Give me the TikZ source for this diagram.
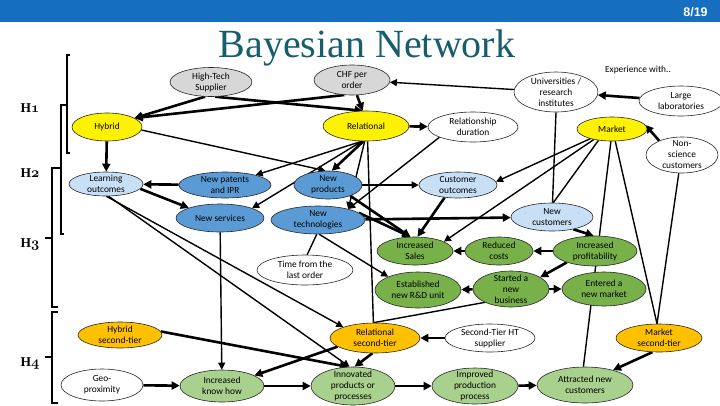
\documentclass[tikz,border=0pt]{standalone}
\usepackage{fontspec}
\setmainfont{Carlito}
\newfontfamily\titlefont{Liberation Serif}
\newfontfamily\hdrfont{Liberation Sans}
\usetikzlibrary{shapes.geometric,arrows.meta,backgrounds}
\definecolor{hdrblue}{RGB}{22,110,192}
\definecolor{teal}{RGB}{23,94,108}
\definecolor{grayfill}{RGB}{215,215,215}
\definecolor{yel}{RGB}{255,242,0}
\definecolor{lblue}{RGB}{200,224,246}
\definecolor{mblue}{RGB}{91,155,213}
\definecolor{grn}{RGB}{120,176,74}
\definecolor{lgrn}{RGB}{169,209,142}
\definecolor{orng}{RGB}{255,192,0}
\newcommand\mynodefont{\fontsize{9.4}{11}\selectfont}
\begin{document}
\begin{tikzpicture}[x=1pt,y=-1pt,
  ell/.style={ellipse, draw=black!85, line width=0.6pt, inner xsep=-1pt, inner ysep=-3pt, align=center, font=\mynodefont},
  sz/.style 2 args={minimum width=#1pt, minimum height=#2pt},
  thk/.style={line width=2.6pt, -{Triangle[length=8pt,width=8pt]}},
  thin/.style={line width=1.4pt},
  thinarr/.style={line width=1.4pt, -{Triangle[length=7pt,width=7pt]}},
  brk/.style={line width=2.4pt, line cap=butt, line join=miter},
  hlab/.style={anchor=base west, font=\titlefont\bfseries\boldmath\fontsize{13.5}{15}\selectfont}
]
\useasboundingbox (0,0) rectangle (720,405);
% header
\fill[hdrblue] (0,0) rectangle (720,22);
\node[anchor=base, text=white, font=\hdrfont\bfseries\fontsize{12.5}{14}\selectfont] (pg) at (695.5,16) {8/19};
\node[anchor=base, text=teal, font=\titlefont\fontsize{40}{44}\selectfont] (title) at (367,57) {Bayesian Network};

% H labels and brackets
\node[hlab] (h1) at (17,112) {H$\mathnormal{1}$};
\node[hlab] (h2) at (17,177) {H$\mathnormal{2}$};
\node[hlab] (h3) at (17,247) {H$\mathnormal{3}$};
\node[hlab] (h4) at (17,366) {H$\mathnormal{4}$};
\draw[brk] (70,55) -- (67,55) -- (67,153) -- (70,153);
\draw[brk] (67,105) -- (61,105) -- (61,234) -- (64,234);
\draw[brk] (61,168) -- (52,168) -- (52,307) -- (58,307);
\draw[brk] (52,238) -- (45,238);
\draw[brk] (58,312) -- (52,312) -- (52,403) -- (58,403);
\draw[brk] (52,357) -- (45,357);

% nodes
\node[ell, fill=grayfill, sz={82}{29}] (hts) at (211,82) {High-Tech\\Supplier};
\node[ell, fill=grayfill, sz={76}{30}] (chf) at (352,80) {CHF per\\order};
\node[ell, fill=white, sz={84}{40}] (univ) at (556,92) {Universities /\\research\\institutes};
\node[font=\mynodefont] (exp) at (638,70) {Experience with..};
\node[ell, fill=white, sz={84}{30}] (lab) at (681,101) {Large\\laboratories};
\node[ell, fill=yel, sz={70}{28}] (hybrid) at (107,127) {Hybrid};
\node[ell, fill=yel, sz={86}{30}] (relational) at (366,126) {Relational};
\node[ell, fill=white, sz={90}{30}] (reldur) at (473,127) {Relationship\\duration};
\node[ell, fill=yel, sz={70}{24}] (market) at (612,129) {Market};
\node[ell, fill=white, sz={72}{36}] (nonsci) at (682,155) {Non-\\science\\customers};
\node[ell, fill=lblue, sz={74}{24}] (lo) at (106,184) {Learning\\outcomes};
\node[ell, fill=mblue, sz={92}{26}] (patents) at (225,185) {New patents\\and IPR};
\node[ell, fill=mblue, sz={68}{28}] (products) at (328,185) {New\\products};
\node[ell, fill=lblue, sz={78}{26}] (custout) at (458,185) {Customer\\outcomes};
\node[ell, fill=mblue, sz={88}{28}] (services) at (220,218) {New services};
\node[ell, fill=mblue, sz={94}{28}] (tech) at (318,220) {New\\technologies};
\node[ell, fill=lblue, sz={82}{28}] (newcust) at (552,217) {New\\customers};
\node[ell, fill=grn, sz={76}{28}] (sales) at (415,251) {Increased\\Sales};
\node[ell, fill=grn, sz={68}{28}] (costs) at (499,251) {Reduced\\costs};
\node[ell, fill=grn, sz={84}{30}] (profit) at (595,251) {Increased\\profitability};
\node[ell, fill=white, sz={96}{30}] (time) at (305,270) {Time from the\\last order};
\node[ell, fill=grn, sz={86}{36}] (rnd) at (418,290) {Established\\new R\&D unit};
\node[ell, fill=grn, sz={76}{36}] (started) at (511,289) {Started a\\new\\business};
\node[ell, fill=grn, sz={84}{34}] (entered) at (604,289) {Entered a\\new market};
\node[ell, fill=orng, sz={84}{26}] (hyb2) at (120,335) {Hybrid\\second-tier};
\node[ell, fill=orng, sz={90}{30}] (rel2) at (375,338) {Relational\\second-tier};
\node[ell, fill=white, sz={90}{28}] (ht2) at (490,338) {Second-Tier HT\\supplier};
\node[ell, fill=orng, sz={86}{28}] (mkt2) at (659,338) {Market\\second-tier};
\node[ell, fill=white, sz={82}{32}] (geo) at (102,385) {Geo-\\proximity};
\node[ell, fill=lgrn, sz={84}{32}] (knowhow) at (222,386) {Increased\\know how};
\node[ell, fill=lgrn, sz={84}{38}] (innov) at (353,386) {Innovated\\products or\\processes};
\node[ell, fill=lgrn, sz={86}{36}] (improved) at (475,386) {Improved\\production\\process};
\node[ell, fill=lgrn, sz={96}{36}] (attracted) at (585,385) {Attracted new\\customers};

% connectors
\begin{scope}[on background layer]
\draw[thk] (hts.-112) -- (hybrid.18);
\draw[thk] (chf.-117) -- (hybrid.18);
\draw[thk] (hts.-74) -- (relational.102);
\draw[thk] (chf.-72) -- (relational.102);
\draw[thinarr] (univ) -- (chf);
\draw[thk] (lab) -- (univ);
\draw[thin] (univ.-90) -- (newcust.88);
\draw[thk] (relational) -- (reldur);
\draw[thk] (hybrid) -- (lo);
\draw[thinarr] (hybrid.-5) -- (products.100);
\draw[thinarr] (relational.-105) -- (patents.18);
\draw[thinarr] (relational.-105) -- (services.17);
\draw[thk] (relational.-100) -- (products.75);
\draw[thinarr] (relational.-95) -- (tech.20);
\draw[thin] (relational.-84) -- (rel2.96);
\draw[thinarr] (reldur.-163) -- (tech.20);
\draw[thinarr] (products) -- (custout);
\draw[thk] (products.-26) -- (sales.108);
\draw[thk] (tech.10) -- (sales.108);
\draw[thk] (tech) -- (newcust);
\draw[thinarr] (tech.-85) -- (rnd.156);
\draw[thin] (tech.-95) -- (time.82);
\draw[thk] (patents) -- (lo);
\draw[thk] (lo.-8) -- (services.162);
\draw[thinarr] (lo.-88) -- (rel2.161);
\draw[thinarr] (lo.-78) -- (innov.100);
\draw[thinarr] (services) -- (knowhow);
\draw[thinarr] (market.-156) -- (custout.5);
\draw[thinarr] (market.-150) -- (sales.18);
\draw[thin] (market.-140) -- (newcust.85);
\draw[thin] (market.-95) -- (attracted.95);
\draw[thin] (market.-75) -- (mkt2.98);
\draw[thk] (nonsci.148) -- (market.7);
\draw[thin] (nonsci.-100) -- (mkt2.98);
\draw[thk] (custout.-137) -- (sales.80);
\draw[thk] (newcust.-30) -- (profit.95);
\draw[thk] (profit) -- (costs);
\draw[thk] (costs) -- (sales);
\draw[thk] (profit.-158) -- (started.22);
\draw[thk] (started) -- (rnd);
\draw[thk] (started) -- (entered);
\draw[thin] (started.-153) -- (rel2.96);
\draw[thk] (hyb2.5) -- (innov.105);
\draw[thk] (rel2.-167) -- (knowhow.18);
\draw[thk] (rel2.-100) -- (innov.85);
\draw[thk] (ht2) -- (rel2);
\draw[thk] (geo) -- (knowhow);
\draw[thk] (knowhow) -- (innov);
\draw[thk] (innov) -- (improved);
\draw[thk] (improved) -- (attracted);
\draw[thk] (mkt2.-115) -- (attracted.28);
\end{scope}
\end{tikzpicture}
\end{document}
